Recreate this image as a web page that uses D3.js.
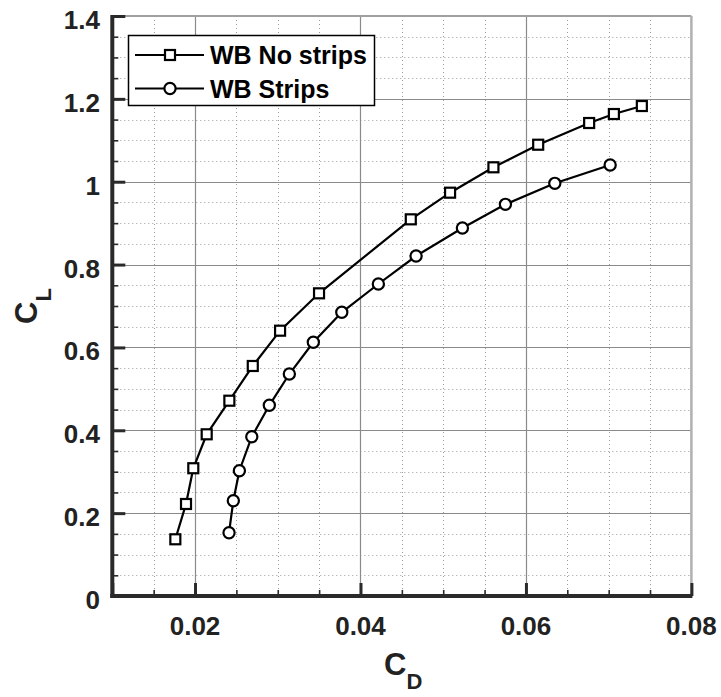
<!DOCTYPE html>
<html>
<head>
<meta charset="utf-8">
<script src="https://cdn.jsdelivr.net/npm/d3@7"></script>
<style>
  html, body { margin: 0; padding: 0; background: #fff; }
  svg { display: block; font-family: "Liberation Sans", Arial, Helvetica, sans-serif; }
</style>
</head>
<body>
<svg id="chart" width="721" height="697"></svg>
<script>
// Drag polar: lift coefficient against drag coefficient, wing-body with and without transition strips
const cdNoStrips = [0.01762, 0.01891, 0.01979, 0.02141, 0.02415, 0.02698, 0.03028, 0.03499, 0.04608, 0.05083, 0.05607, 0.06148, 0.06764, 0.07063, 0.07401];
const clNoStrips = [0.1369, 0.2221, 0.3084, 0.3903, 0.4714, 0.5552, 0.6404, 0.7306, 0.9092, 0.9735, 1.0348, 1.0893, 1.1417, 1.1634, 1.1827];
const cdStrips = [0.02411, 0.02463, 0.02536, 0.02686, 0.02898, 0.03140, 0.03430, 0.03774, 0.04216, 0.04672, 0.05232, 0.05752, 0.06349, 0.07018];
const clStrips = [0.1528, 0.2300, 0.3024, 0.3845, 0.4603, 0.5358, 0.6124, 0.6848, 0.7531, 0.8207, 0.8883, 0.9454, 0.9961, 1.0403];
const seriesNames = ["WB No strips", "WB Strips"];
const xTickValues = [0.02, 0.04, 0.06, 0.08];
const yTickValues = [0, 0.2, 0.4, 0.6, 0.8, 1.0, 1.2, 1.4];
const xMinorValues = d3.range(0, 15).map(i => 0.01 + i * 0.005);
const yMinorValues = d3.range(0, 29).map(i => i * 0.05);

const svg = d3.select("#chart");
const plotLeft = 112.3, plotRight = 691.4, plotTop = 16, plotBottom = 596;

const x = d3.scaleLinear().domain([0.01, 0.08]).range([plotLeft, plotRight]);
const y = d3.scaleLinear().domain([0, 1.4]).range([plotBottom, plotTop]);

const isMajorX = v => xTickValues.some(t => Math.abs(t - v) < 1e-9);
const isMajorY = v => yTickValues.some(t => Math.abs(t - v) < 1e-9);

// grid: dotted minor, solid major
const grid = svg.append("g");
grid.selectAll("line.vminor")
  .data(xMinorValues.filter(v => !isMajorX(v) && v > 0.0101 && v < 0.0799))
  .join("line")
  .attr("x1", d => Math.round(x(d)) + 0.5).attr("x2", d => Math.round(x(d)) + 0.5)
  .attr("y1", plotTop).attr("y2", plotBottom)
  .attr("stroke", "#9a9a9a").attr("stroke-width", 1).attr("stroke-dasharray", "1,3");
grid.selectAll("line.hminor")
  .data(yMinorValues.filter(v => !isMajorY(v) && v > 0.001 && v < 1.399))
  .join("line")
  .attr("y1", d => Math.round(y(d)) + 0.5).attr("y2", d => Math.round(y(d)) + 0.5)
  .attr("x1", plotLeft).attr("x2", plotRight)
  .attr("stroke", "#9a9a9a").attr("stroke-width", 1).attr("stroke-dasharray", "1,3");
grid.selectAll("line.vmajor")
  .data(xTickValues.filter(v => v < 0.0799))
  .join("line")
  .attr("x1", d => Math.round(x(d)) + 0.5).attr("x2", d => Math.round(x(d)) + 0.5)
  .attr("y1", plotTop).attr("y2", plotBottom)
  .attr("stroke", "#8a8a8a").attr("stroke-width", 1.2);
grid.selectAll("line.hmajor")
  .data(yTickValues.filter(v => v > 0.001 && v < 1.399))
  .join("line")
  .attr("y1", d => Math.round(y(d)) + 0.5).attr("y2", d => Math.round(y(d)) + 0.5)
  .attr("x1", plotLeft).attr("x2", plotRight)
  .attr("stroke", "#8a8a8a").attr("stroke-width", 1.2);

// top and right frame
svg.append("line").attr("x1", plotLeft).attr("x2", plotRight).attr("y1", plotTop).attr("y2", plotTop)
  .attr("stroke", "#a0a0a0").attr("stroke-width", 2);
svg.append("line").attr("x1", plotRight).attr("x2", plotRight).attr("y1", plotTop).attr("y2", plotBottom)
  .attr("stroke", "#b0b0b0").attr("stroke-width", 2.5);

// axes (ticks point inward)
const axisColor = "#2a2a2a";
const xAxisMinor = d3.axisTop(x).tickValues(xMinorValues).tickSize(6).tickFormat("");
const xAxisMajor = d3.axisTop(x).tickValues([0.01].concat(xTickValues)).tickSize(13).tickFormat("");
const yAxisMinor = d3.axisRight(y).tickValues(yMinorValues).tickSize(6).tickFormat("");
const yAxisMajor = d3.axisRight(y).tickValues(yTickValues).tickSize(13).tickFormat("");

function styleAxis(g, w) {
  g.select(".domain").remove();
  g.selectAll(".tick line").attr("stroke", axisColor).attr("stroke-width", w);
}
svg.append("g").attr("transform", `translate(0,${plotBottom})`).call(xAxisMinor).call(g => styleAxis(g, 1.6));
svg.append("g").attr("transform", `translate(0,${plotBottom})`).call(xAxisMajor).call(g => styleAxis(g, 3));
svg.append("g").attr("transform", `translate(${plotLeft},0)`).call(yAxisMinor).call(g => styleAxis(g, 1.6));
svg.append("g").attr("transform", `translate(${plotLeft},0)`).call(yAxisMajor).call(g => styleAxis(g, 3));

// axis lines
svg.append("line").attr("x1", plotLeft - 2).attr("x2", plotRight + 1).attr("y1", plotBottom).attr("y2", plotBottom)
  .attr("stroke", axisColor).attr("stroke-width", 4);
svg.append("line").attr("x1", plotLeft).attr("x2", plotLeft).attr("y1", plotTop - 1).attr("y2", plotBottom + 2)
  .attr("stroke", axisColor).attr("stroke-width", 4);

// tick labels
svg.append("g").selectAll("text")
  .data(xTickValues)
  .join("text")
  .attr("x", d => x(d)).attr("y", 635)
  .attr("text-anchor", "middle")
  .attr("font-size", 26).attr("font-weight", "bold").attr("fill", "#222")
  .text(d => d3.format(".2f")(d));
svg.append("g").selectAll("text")
  .data(yTickValues)
  .join("text")
  .attr("x", 100).attr("y", d => y(d) + 13)
  .attr("text-anchor", "end")
  .attr("font-size", 26).attr("font-weight", "bold").attr("fill", "#222")
  .text(d => d === 0 ? "0" : (Math.abs(d - 1) < 1e-9 ? "1" : d3.format(".1f")(d)));

// axis titles
const xt = svg.append("text").attr("x", 384).attr("y", 675)
  .attr("font-size", 31).attr("font-weight", "bold").attr("fill", "#222");
xt.append("tspan").text("C");
xt.append("tspan").attr("dy", 14).attr("font-size", 22).text("D");

const yt = svg.append("text").attr("transform", "translate(37,324) rotate(-90)")
  .attr("font-size", 31).attr("font-weight", "bold").attr("fill", "#222");
yt.append("tspan").text("C");
yt.append("tspan").attr("dy", 14).attr("font-size", 22).text("L");

// series
const seriesA = cdNoStrips.map((c, i) => ({ cd: c, cl: clNoStrips[i] }));
const seriesB = cdStrips.map((c, i) => ({ cd: c, cl: clStrips[i] }));
const line = d3.line().x(d => x(d.cd)).y(d => y(d.cl));

const plot = svg.append("g");
plot.append("path").datum(seriesA).attr("d", line)
  .attr("fill", "none").attr("stroke", "#000").attr("stroke-width", 2.2);
plot.append("path").datum(seriesB).attr("d", line)
  .attr("fill", "none").attr("stroke", "#000").attr("stroke-width", 2.2);

const sq = 10;
plot.selectAll("rect.sq").data(seriesA).join("rect")
  .attr("x", d => x(d.cd) - sq / 2).attr("y", d => y(d.cl) - sq / 2)
  .attr("width", sq).attr("height", sq)
  .attr("fill", "#fff").attr("stroke", "#000").attr("stroke-width", 2.2);
plot.selectAll("circle.ci").data(seriesB).join("circle")
  .attr("cx", d => x(d.cd)).attr("cy", d => y(d.cl)).attr("r", 5.6)
  .attr("fill", "#fff").attr("stroke", "#000").attr("stroke-width", 2.2);

// legend
const lg = svg.append("g");
lg.append("rect").attr("x", 128.5).attr("y", 35.5).attr("width", 246).attr("height", 70)
  .attr("fill", "#fff").attr("stroke", "#000").attr("stroke-width", 1.5);
const rows = [55, 88.5];
rows.forEach((ry, i) => {
  lg.append("line").attr("x1", 135).attr("x2", 204).attr("y1", ry).attr("y2", ry)
    .attr("stroke", "#000").attr("stroke-width", 2.2);
  if (i === 0) {
    lg.append("rect").attr("x", 170 - sq / 2).attr("y", ry - sq / 2).attr("width", sq).attr("height", sq)
      .attr("fill", "#fff").attr("stroke", "#000").attr("stroke-width", 2.2);
  } else {
    lg.append("circle").attr("cx", 170).attr("cy", ry).attr("r", 5.6)
      .attr("fill", "#fff").attr("stroke", "#000").attr("stroke-width", 2.2);
  }
  lg.append("text").attr("x", 210).attr("y", ry + 9)
    .attr("font-size", 25).attr("font-weight", "bold").attr("fill", "#000")
    .text(seriesNames[i]);
});
</script>
</body>
</html>
